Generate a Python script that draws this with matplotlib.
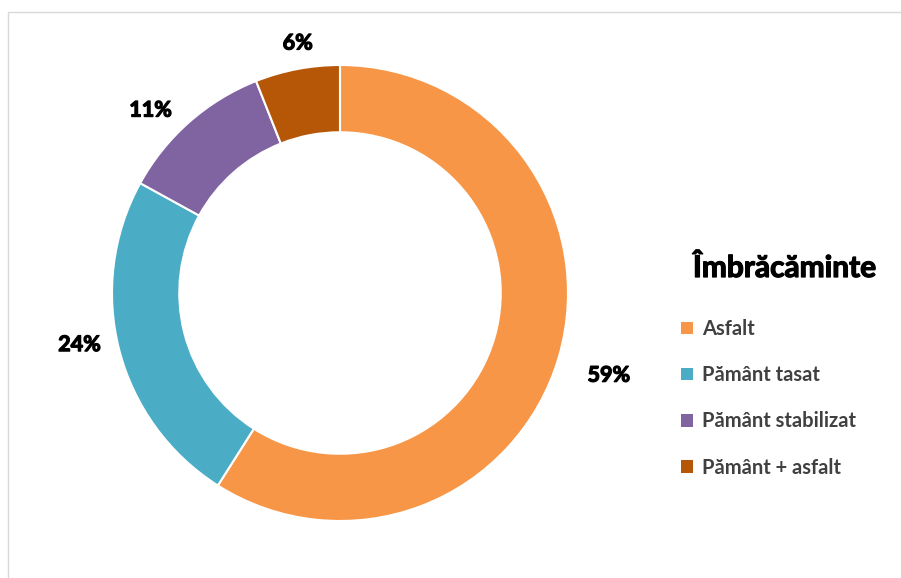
import matplotlib
matplotlib.use("Agg")
import matplotlib.pyplot as plt
import matplotlib.patheffects as pe
import numpy as np
from matplotlib.patches import Patch

plt.rcParams['font.family'] = ['Lato', 'DejaVu Sans']

categories = ['Asfalt', 'Pământ tasat', 'Pământ stabilizat', 'Pământ + asfalt']
shares = [59, 24, 11, 6]
colors = ['#F79646', '#4BACC6', '#8064A2', '#B65708']
legend_title = 'Îmbrăcăminte'

# radial distance and angle nudge (deg) of each percentage label
label_dist = [1.233, 1.165, 1.155, 1.112]
label_nudge = [-0.8, -3.2, 4.6, -1.2]

W, H = 901, 578
fig = plt.figure(figsize=(W / 100, H / 100), dpi=100)

# thin grey frame around the chart area
frame = plt.Rectangle((8 / W, -0.01), 1.0, 1 - 12 / H + 0.01, transform=fig.transFigure,
                      fill=False, edgecolor='#D9D9D9', linewidth=1.0)
fig.patches.append(frame)

cx, cy, r = 340, 293, 228
ax = fig.add_axes([(cx - r) / W, (H - cy - r) / H, 2 * r / W, 2 * r / H])

wedges, _ = ax.pie(
    shares, colors=colors, startangle=90, counterclock=False, radius=1.0,
    wedgeprops=dict(width=0.295, edgecolor='white', linewidth=1.5))
ax.set_xlim(-1, 1)
ax.set_ylim(-1, 1)
ax.set_aspect('equal')
ax.axis('off')

# thicken the bold glyphs a little
thick = [pe.withStroke(linewidth=0.9, foreground='black')]

for w, v, d, nudge in zip(wedges, shares, label_dist, label_nudge):
    ang = np.deg2rad((w.theta1 + w.theta2) / 2 + nudge)
    ax.text(d * np.cos(ang), d * np.sin(ang), f'{v}%', ha='center', va='center',
            fontsize=15.5, fontweight='bold', color='black', clip_on=False,
            path_effects=thick)

fig.text(693 / W, 1 - 277 / H, legend_title, ha='left', va='baseline',
         fontsize=21.5, fontweight='bold', color='black', path_effects=thick)

handles = [Patch(facecolor=c, edgecolor='none') for c in colors]
leg = fig.legend(handles, categories, loc='upper left',
                 bbox_to_anchor=(681 / W, 1 - 319 / H), frameon=False, borderpad=0,
                 borderaxespad=0, handlelength=0.6, handleheight=0.6, handletextpad=0.45,
                 labelspacing=1.3, fontsize=14.5)
for t in leg.get_texts():
    t.set_color('#404040')
    t.set_fontweight('bold')

fig.savefig('out.png', dpi=100)
